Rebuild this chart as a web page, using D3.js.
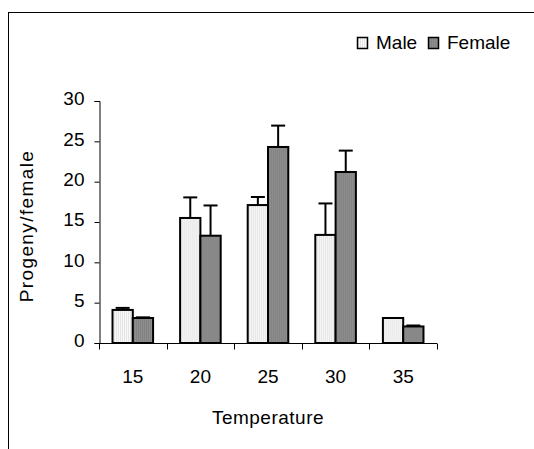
<!DOCTYPE html>
<html>
<head>
<meta charset="utf-8">
<script src="https://cdn.jsdelivr.net/npm/d3@7"></script>
<style>
    body { margin: 0; background: #fff; }
    text { font-family: "Liberation Sans", Arial, sans-serif; font-size: 19px; fill: #000; }
</style>
</head>
<body>
<svg id="chart" width="534" height="449"></svg>
<script>
let temperatures = ['15', '20', '25', '30', '35'];
let series = ['Male', 'Female'];
let maleValues = [4.1, 15.5, 17.1, 13.4, 3.1];
let maleErrors = [0.25, 2.55, 1.0, 3.9, 0];
let femaleValues = [3.1, 13.3, 24.3, 21.2, 2.05];
let femaleErrors = [0.08, 3.75, 2.65, 2.65, 0.12];
let yTicks = [0, 5, 10, 15, 20, 25, 30];

let svg = d3.select('#chart');

// fills with the faint vertical stripes of the original
let defs = svg.append('defs');
function stripes(id, a, b) {
    let p = defs.append('pattern')
        .attr('id', id)
        .attr('patternUnits', 'userSpaceOnUse')
        .attr('width', 2)
        .attr('height', 4);
    p.append('rect').attr('width', 1).attr('height', 4).attr('fill', a);
    p.append('rect').attr('x', 1).attr('width', 1).attr('height', 4).attr('fill', b);
}
stripes('male-fill', '#f8f8f8', '#e4e4e4');
stripes('female-fill', '#8e8e8e', '#828282');
let fills = {Male: 'url(#male-fill)', Female: 'url(#female-fill)'};

// outer frame, only left and top edges fall inside the picture
svg.append('rect')
    .attr('x', 8.5).attr('y', 12.5)
    .attr('width', 600).attr('height', 600)
    .attr('fill', 'none')
    .attr('stroke', '#000')
    .attr('stroke-width', 1);

let x = d3.scaleBand().domain(temperatures).range([99, 437]).padding(0);
let xInner = d3.scaleBand().domain(series)
    .range([0, x.bandwidth()])
    .paddingOuter(0.666).paddingInner(0);
let y = d3.scaleLinear().domain([0, 30]).range([343, 101]);

let rows = temperatures.map((t, i) => [
    {temp: t, key: 'Male', value: maleValues[i], err: maleErrors[i]},
    {temp: t, key: 'Female', value: femaleValues[i], err: femaleErrors[i]}
]);

// y axis
let yAxis = svg.append('g')
    .attr('transform', 'translate(99.5,0)')
    .call(d3.axisLeft(y).tickValues(yTicks).tickSize(5).tickPadding(10));
yAxis.select('.domain').attr('stroke', '#000');
yAxis.selectAll('.tick line').attr('stroke', '#000');
yAxis.selectAll('.tick text')
    .attr('font-size', null).attr('font-family', null)
    .attr('dy', '0.2em');

// x axis, ticks sit between the categories
let xAxis = svg.append('g')
    .attr('transform', 'translate(0,343.5)');
xAxis.append('line')
    .attr('x1', x.range()[0]).attr('x2', x.range()[1])
    .attr('stroke', '#000');
xAxis.selectAll('line.sep')
    .data(temperatures.concat(['end']))
    .enter()
    .append('line')
    .classed('sep', true)
    .attr('x1', (d, i) => Math.round(x.range()[0] + i * x.step()) + 0.5)
    .attr('x2', (d, i) => Math.round(x.range()[0] + i * x.step()) + 0.5)
    .attr('y1', 0).attr('y2', 6)
    .attr('stroke', '#000');
xAxis.selectAll('text')
    .data(temperatures)
    .enter()
    .append('text')
    .attr('x', (d) => x(d) + x.bandwidth() / 2)
    .attr('y', 39)
    .attr('text-anchor', 'middle')
    .text((d) => d);

// bars
let groups = svg.selectAll('g.group')
    .data(rows)
    .enter()
    .append('g')
    .classed('group', true)
    .attr('transform', (d) => 'translate(' + x(d[0].temp) + ',0)');

groups.selectAll('rect')
    .data((d) => d)
    .enter()
    .append('rect')
    .attr('x', (d) => xInner(d.key))
    .attr('y', (d) => y(d.value))
    .attr('width', xInner.bandwidth())
    .attr('height', (d) => y(0) - y(d.value))
    .attr('fill', (d) => fills[d.key])
    .attr('stroke', '#000')
    .attr('stroke-width', 2);

// error bars, upper half only
let errs = groups.selectAll('g.err')
    .data((d) => d.filter((e) => e.err > 0))
    .enter()
    .append('g')
    .classed('err', true)
    .attr('transform', (d) => 'translate(' + (xInner(d.key) + xInner.bandwidth() / 2) + ',0)');
errs.append('line')
    .attr('x1', 0).attr('x2', 0)
    .attr('y1', (d) => y(d.value))
    .attr('y2', (d) => y(d.value + d.err))
    .attr('stroke', '#000').attr('stroke-width', 2);
errs.append('line')
    .attr('x1', -7).attr('x2', 7)
    .attr('y1', (d) => y(d.value + d.err))
    .attr('y2', (d) => y(d.value + d.err))
    .attr('stroke', '#000').attr('stroke-width', 2);

// axis titles
svg.append('text')
    .attr('x', 268)
    .attr('y', 424)
    .attr('text-anchor', 'middle')
    .attr('letter-spacing', 0.5)
    .text('Temperature');

svg.append('text')
    .attr('transform', 'translate(33,226) rotate(-90)')
    .attr('text-anchor', 'middle')
    .attr('letter-spacing', 1.4)
    .text('Progeny/female');

// legend
let legend = svg.append('g').attr('transform', 'translate(357,37)');
let legendX = [0, 71];
let items = legend.selectAll('g')
    .data(series)
    .enter()
    .append('g')
    .attr('transform', (d, i) => 'translate(' + legendX[i] + ',0)');
items.append('rect')
    .attr('x', 0.5).attr('y', 0.5)
    .attr('width', 10).attr('height', 11)
    .attr('fill', (d) => fills[d])
    .attr('stroke', '#000')
    .attr('stroke-width', 1.5);
items.append('text')
    .attr('x', 19)
    .attr('y', 11.5)
    .text((d) => d);
</script>
</body>
</html>
